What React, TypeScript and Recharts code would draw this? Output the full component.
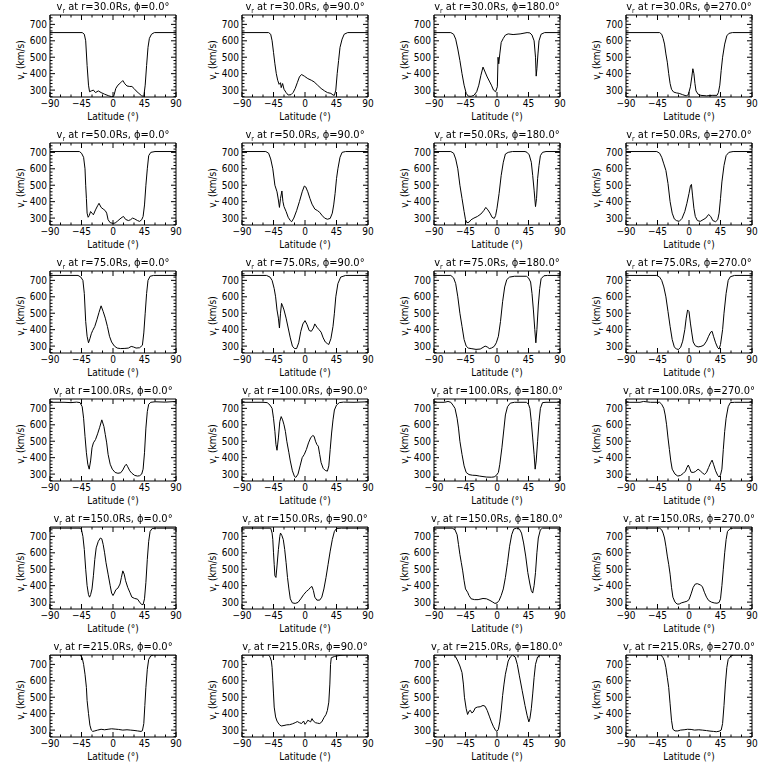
import { LineChart, Line, XAxis, YAxis, ReferenceArea } from "recharts";

// latitude (deg) vs v_r (km/s)
const r30p0 = [[-90,650],[-44,650],[-41,640],[-39,600],[-37,450],[-35,330],[-33.5,290],[-31,295],[-28,300],[-25,285],[-21,295],[-17,285],[-12,275],[-6,265],[-2,260],[1,262],[4,310],[7,330],[11,345],[14,358],[17,338],[20,325],[24,322],[27,322],[30,310],[33,295],[37,280],[41,265],[44,262],[46,330],[48,450],[50,560],[52,615],[55,640],[59,650],[90,650]];
const r30p90 = [[-90,650],[-52,650],[-49,640],[-47,600],[-45,530],[-43,460],[-41,400],[-39,360],[-37,335],[-35,345],[-34,315],[-32,340],[-30,305],[-27,285],[-24,270],[-20,272],[-17,285],[-14,310],[-11,345],[-8,380],[-5,395],[-1,385],[4,370],[9,360],[13,350],[18,330],[23,310],[28,295],[32,285],[37,280],[40,270],[42,268],[44,300],[46,400],[48,480],[50,560],[53,610],[56,640],[61,650],[90,650]];
const r30p180 = [[-90,650],[-66,650],[-62,640],[-59,610],[-56,550],[-53,480],[-50,400],[-47,330],[-44,280],[-41,263],[-37,262],[-33,268],[-29,290],[-26,330],[-23,390],[-20,440],[-17,410],[-14,380],[-11,355],[-8,330],[-5,300],[-2,290],[0.5,320],[1.5,500],[2.5,460],[4,520],[6,590],[9,615],[12,635],[16,642],[23,638],[33,642],[43,650],[47,648],[50,635],[53,600],[55,500],[56,385],[57,430],[58.5,520],[60,600],[63,640],[68,650],[90,650]];
const r30p270 = [[-90,650],[-42,650],[-39,640],[-37,615],[-35,580],[-33,520],[-31,470],[-29,400],[-27,340],[-25,305],[-22,288],[-18,283],[-14,280],[-9,272],[-4,265],[-1,272],[2,320],[4,380],[5.5,430],[7,400],[8.5,340],[10,295],[13,275],[17,268],[25,265],[33,268],[40,268],[42,285],[44,330],[46,420],[48,500],[51,580],[54,630],[57,645],[62,650],[90,650]];

const r50p0 = [[-90,705],[-48,705],[-45,695],[-42,670],[-40,600],[-39,500],[-38,420],[-37,330],[-35.5,305],[-34,315],[-32,340],[-30,330],[-28,320],[-25,350],[-22,375],[-20,390],[-17,365],[-14,355],[-11,345],[-9,330],[-7,290],[-4,272],[0,268],[3,270],[6,280],[10,295],[13,305],[15,310],[18,292],[22,285],[25,290],[28,300],[31,295],[35,285],[38,280],[41,290],[43,310],[45,380],[47,500],[49,600],[51,680],[54,700],[60,705],[90,705]];
const r50p90 = [[-90,705],[-56,705],[-52,695],[-49,660],[-46,600],[-43,500],[-40,460],[-38,410],[-36.5,365],[-35,420],[-33,465],[-31.5,400],[-30,370],[-27,340],[-24,305],[-21,285],[-19,278],[-16,300],[-12,345],[-8,400],[-4,460],[-1,495],[1,490],[4,460],[7,420],[10,385],[14,355],[18,345],[21,335],[24,318],[28,300],[32,293],[36,298],[39,330],[41,380],[43,450],[45,540],[47,600],[50,670],[53,700],[58,705],[90,705]];
const r50p180 = [[-90,705],[-66,705],[-62,695],[-59,660],[-56,600],[-53,500],[-50,420],[-47,340],[-45,290],[-43,272],[-40,275],[-37,290],[-33,300],[-28,310],[-23,325],[-19,345],[-16,365],[-13,350],[-10,330],[-7,305],[-4,298],[-2,315],[0,360],[3,450],[6,560],[9,640],[12,690],[16,700],[22,705],[40,705],[43,700],[46,685],[49,640],[51,560],[53,470],[55,370],[56.5,420],[58,540],[60,620],[62,680],[65,700],[70,705],[90,705]];
const r50p270 = [[-90,705],[-46,705],[-42,695],[-39,670],[-36,630],[-33,590],[-30,510],[-27,400],[-24,330],[-21,295],[-18,285],[-14,280],[-10,298],[-6,340],[-3,390],[0,450],[2,495],[3.5,505],[5,440],[7,360],[9,310],[12,285],[16,280],[20,290],[24,300],[28,322],[31,310],[34,285],[38,278],[41,290],[43,330],[45,420],[47,520],[50,620],[53,680],[57,700],[63,705],[90,705]];

const r75p0 = [[-90,730],[-50,730],[-46,720],[-43,700],[-41,620],[-39,450],[-37,360],[-35,320],[-33,345],[-31,375],[-29,395],[-26,420],[-23,460],[-20,505],[-17,545],[-14,510],[-11,470],[-8,420],[-5,360],[-2,325],[2,300],[6,288],[11,285],[17,286],[22,288],[26,298],[29,295],[33,288],[38,290],[42,305],[44,380],[46,500],[48,620],[50,700],[53,725],[58,730],[90,730]];
const r75p90 = [[-90,730],[-55,730],[-50,720],[-47,700],[-44,650],[-42,600],[-40,520],[-38,470],[-36.5,410],[-35,500],[-33.5,560],[-32,545],[-30,520],[-27,470],[-24,410],[-21,350],[-18,300],[-15,285],[-12,285],[-9,320],[-6,390],[-3,435],[0,455],[3,430],[6,395],[9,390],[12,410],[14,435],[17,415],[20,400],[23,385],[26,350],[29,325],[32,315],[34,310],[37,345],[40,420],[42,500],[44,600],[47,680],[51,720],[58,730],[90,730]];
const r75p180 = [[-90,730],[-66,730],[-62,715],[-59,680],[-56,600],[-53,500],[-50,420],[-47,340],[-44,300],[-41,288],[-37,285],[-30,280],[-24,282],[-20,292],[-17,300],[-14,295],[-11,285],[-8,288],[-4,298],[-1,320],[2,360],[5,450],[8,570],[11,660],[14,705],[18,720],[25,725],[42,725],[45,715],[48,690],[50,620],[52,520],[54,400],[55.5,320],[57,400],[59,550],[61,650],[63,710],[67,728],[72,730],[90,730]];
const r75p270 = [[-90,730],[-46,730],[-42,720],[-39,700],[-36,660],[-33,600],[-30,510],[-27,420],[-24,340],[-21,295],[-18,282],[-15,280],[-12,292],[-9,330],[-6,400],[-4,470],[-2,520],[0,510],[2,440],[4,380],[6,325],[9,302],[13,295],[17,298],[21,305],[25,330],[28,360],[31,385],[33,390],[35,360],[38,320],[41,290],[43,282],[45,310],[48,400],[50,500],[53,620],[56,700],[59,722],[65,730],[90,730]];

const r100p0 = [[-90,737],[-70,737],[-60,735],[-52,738],[-47,735],[-44,710],[-42,640],[-40,530],[-38,430],[-36,360],[-34,330],[-32,380],[-30,460],[-28,490],[-25,510],[-22,545],[-19,585],[-16,630],[-13,590],[-11,540],[-9,490],[-7,420],[-4,360],[-1,330],[3,310],[7,305],[11,308],[14,325],[17,350],[19,360],[21,345],[24,320],[27,305],[31,292],[35,288],[38,290],[41,300],[43,330],[45,430],[47,580],[49,680],[51,725],[54,737],[60,740],[75,738],[90,742]];
const r100p90 = [[-90,737],[-60,737],[-54,735],[-50,720],[-47,700],[-45,640],[-43,560],[-41.5,480],[-40,445],[-38,520],[-36,620],[-34,650],[-32,630],[-30,600],[-28,560],[-26,500],[-23,430],[-21,380],[-18,320],[-15,285],[-13,280],[-10,300],[-7,350],[-4,400],[-1,420],[2,450],[5,490],[8,520],[11,535],[13,530],[15,500],[17,480],[19,470],[21,420],[23,370],[26,335],[29,322],[32,318],[34,350],[36,450],[38,550],[40,630],[42,690],[45,720],[49,735],[55,738],[70,737],[90,740]];
const r100p180 = [[-90,737],[-75,737],[-70,742],[-66,737],[-63,720],[-60,700],[-57,640],[-55,580],[-53,500],[-50,420],[-47,350],[-44,310],[-40,297],[-35,293],[-30,292],[-25,288],[-20,285],[-15,282],[-8,281],[-4,283],[-1,292],[2,310],[4,360],[7,460],[10,580],[12,660],[15,710],[19,732],[25,737],[42,737],[45,725],[47,700],[49,620],[51,520],[53,420],[54.5,330],[56,380],[58,500],[60,620],[62,700],[65,735],[70,737],[90,737]];
const r100p270 = [[-90,737],[-70,737],[-65,742],[-55,737],[-42,737],[-39,725],[-36,700],[-34,660],[-32,600],[-30,520],[-28,450],[-26,380],[-24,330],[-20,300],[-16,288],[-12,292],[-8,305],[-5,318],[-3,340],[-1,355],[1,335],[3,312],[6,310],[9,315],[13,330],[16,320],[19,308],[22,298],[25,310],[28,340],[31,370],[33,385],[35,360],[38,320],[41,292],[43,282],[45,295],[47,330],[49,450],[51,560],[53,640],[56,710],[59,735],[65,737],[90,737]];

const r150p0 = [[-90,750],[-47,750],[-45,740],[-43,700],[-41,620],[-39,500],[-37,400],[-35,345],[-33.5,330],[-32,345],[-30,380],[-28,460],[-26,560],[-24,630],[-21,670],[-18,690],[-16,685],[-14,650],[-12,600],[-10,540],[-7,470],[-4,400],[-2,355],[0,340],[2,355],[4,375],[7,385],[10,410],[12,450],[14,490],[16,470],[18,430],[21,390],[24,360],[27,330],[31,322],[35,318],[38,300],[41,285],[43,285],[45,320],[47,420],[49,560],[51,670],[53,730],[56,748],[62,750],[90,750]];
const r150p90 = [[-90,750],[-49,750],[-47,720],[-46,680],[-45,600],[-44,530],[-43,460],[-41.5,450],[-40,520],[-38,620],[-36,700],[-35,720],[-33,705],[-31,680],[-29,620],[-27,540],[-25,450],[-23,380],[-21,320],[-18,295],[-14,292],[-10,298],[-6,320],[-2,345],[2,365],[5,375],[8,390],[10,395],[12,370],[14,330],[17,312],[21,312],[24,330],[27,380],[30,450],[33,530],[36,610],[39,680],[42,730],[45,748],[52,750],[90,750]];
const r150p180 = [[-90,750],[-64,750],[-60,740],[-57,710],[-55,650],[-53,590],[-51,540],[-49,490],[-47,430],[-45,380],[-42,360],[-40,340],[-37,320],[-32,315],[-27,315],[-20,322],[-15,320],[-10,310],[-6,300],[-3,292],[0,295],[3,310],[6,340],[9,380],[12,450],[15,540],[18,640],[21,710],[24,745],[28,750],[32,745],[35,720],[38,660],[41,580],[44,480],[47,410],[49,370],[51,355],[53,400],[55,480],[57,600],[59,690],[62,740],[65,750],[90,750]];
const r150p270 = [[-90,750],[-42,750],[-39,740],[-37,720],[-35,690],[-33,640],[-31,580],[-29,530],[-27,470],[-25,390],[-23,330],[-20,300],[-17,288],[-14,288],[-11,295],[-7,300],[-3,305],[0,315],[3,350],[6,390],[9,410],[12,412],[16,405],[19,395],[22,360],[25,330],[28,310],[32,300],[36,295],[40,293],[43,298],[45,320],[47,400],[49,500],[51,600],[53,680],[55,730],[59,748],[64,750],[90,750]];

const r215p0 = [[-90,757],[-47,757],[-44,740],[-42,700],[-40,640],[-38,560],[-37,480],[-35,400],[-33,330],[-31,300],[-29,292],[-26,295],[-22,300],[-17,305],[-12,302],[-7,305],[-2,308],[3,306],[8,304],[14,300],[20,302],[25,300],[30,298],[35,295],[40,292],[42,296],[44,340],[45.5,450],[47,560],[49,670],[51,730],[54,752],[58,757],[90,757]];
const r215p90 = [[-90,757],[-52,757],[-50,745],[-48,720],[-47,680],[-46,600],[-45,520],[-44,440],[-42,380],[-40,355],[-37,335],[-34,325],[-30,328],[-26,332],[-22,333],[-18,338],[-14,345],[-11,352],[-8,345],[-5,340],[-2,355],[0,335],[2,345],[4,360],[6,355],[8,350],[10,370],[12,355],[15,345],[18,342],[21,340],[24,350],[27,375],[30,395],[32,420],[34,470],[35.5,580],[36.5,700],[37.5,740],[42,748],[50,755],[60,757],[90,757]];
const r215p180 = [[-90,757],[-62,757],[-59,745],[-56,720],[-53,690],[-50,650],[-48,580],[-46.5,500],[-44,430],[-42,395],[-40,415],[-38,420],[-36,405],[-34,410],[-31,435],[-28,440],[-24,442],[-20,450],[-17,445],[-14,420],[-11,385],[-8,350],[-5,320],[-2,298],[0,292],[2,305],[4,350],[6,420],[8,510],[10,580],[12,640],[14,680],[16,720],[19,745],[22,757],[26,745],[29,700],[32,630],[36,540],[40,450],[43,390],[45.5,350],[47,370],[49,430],[51,520],[53,620],[55,700],[58,745],[62,757],[90,757]];
const r215p270 = [[-90,757],[-40,757],[-37,740],[-35,720],[-33,680],[-31,620],[-29,560],[-27,460],[-25,360],[-23,305],[-20,295],[-16,295],[-12,300],[-7,302],[-2,305],[3,304],[8,300],[14,302],[19,300],[25,297],[30,294],[35,292],[39,290],[43,293],[46,300],[48,340],[50,450],[52,580],[54,680],[56,730],[60,752],[64,757],[90,757]];

const radii = ["30.0", "50.0", "75.0", "100.0", "150.0", "215.0"];
const phis = ["0.0", "90.0", "180.0", "270.0"];
const series = [
  [r30p0, r30p90, r30p180, r30p270],
  [r50p0, r50p90, r50p180, r50p270],
  [r75p0, r75p90, r75p180, r75p270],
  [r100p0, r100p90, r100p180, r100p270],
  [r150p0, r150p90, r150p180, r150p270],
  [r215p0, r215p90, r215p180, r215p270],
];

const xMajor = [-90, -45, 0, 45, 90];
const xTicks = [-90, -75, -60, -45, -30, -15, 0, 15, 30, 45, 60, 75, 90];
const yMajor = [300, 400, 500, 600, 700];
const yTicks = [260, 280, 300, 320, 340, 360, 380, 400, 420, 440, 460, 480, 500, 520, 540, 560, 580, 600, 620, 640, 660, 680, 700, 720, 740];
const yDomain = [258, 757];

const FONT = '"Liberation Sans Narrow", "DejaVu Sans Condensed", "Liberation Sans", sans-serif';
const PW = 192;
const PH = 128;
const PLOT_W = 126;
const PLOT_H = 82;

function XTick(props: any) {
  const { x, y, payload } = props;
  const v = payload.value;
  const major = xMajor.includes(v);
  const len = major ? 5 : 2.5;
  return (
    <g>
      <line x1={x} x2={x} y1={y} y2={y - len} stroke="#000" />
      <line x1={x} x2={x} y1={y - PLOT_H} y2={y - PLOT_H + len} stroke="#000" />
      {major && (
        <text x={x} y={y + 10} textAnchor="middle" fontSize={10} fontFamily={FONT} fill="#000">
          {String(v).replace("-", "\u2212")}
        </text>
      )}
    </g>
  );
}

function YTick(props: any) {
  const { x, y, payload } = props;
  const v = payload.value;
  const major = yMajor.includes(v);
  const len = major ? 5 : 2.5;
  return (
    <g>
      <line x1={x} x2={x + len} y1={y} y2={y} stroke="#000" />
      <line x1={x + PLOT_W} x2={x + PLOT_W - len} y1={y} y2={y} stroke="#000" />
      {major && (
        <text x={x - 3} y={y} dy="0.35em" textAnchor="end" fontSize={10} fontFamily={FONT} fill="#000">
          {v}
        </text>
      )}
    </g>
  );
}

function Panel({ r, phi, pts }: { r: string; phi: string; pts: number[][] }) {
  const data = pts.map(([lat, v]) => ({ lat, v }));
  return (
    <div style={{ position: "relative", width: PW, height: PH }}>
      <LineChart width={PW} height={PH} data={data} margin={{ top: 15, right: 16, bottom: 0, left: 0 }}>
        <XAxis
          type="number"
          dataKey="lat"
          domain={[-90, 90]}
          ticks={xTicks}
          interval={0}
          height={31}
          tickSize={0}
          tickMargin={0}
          axisLine={false}
          tickLine={false}
          allowDataOverflow
          tick={<XTick />}
        />
        <YAxis
          type="number"
          domain={yDomain}
          ticks={yTicks}
          interval={0}
          width={50}
          tickSize={0}
          tickMargin={0}
          axisLine={false}
          tickLine={false}
          allowDataOverflow
          tick={<YTick />}
        />
        <ReferenceArea x1={-90} x2={90} y1={yDomain[0]} y2={yDomain[1]} fill="none" stroke="#000" strokeWidth={1} />
        <Line type="linear" dataKey="v" stroke="#000" strokeWidth={1} dot={false} isAnimationActive={false} />
      </LineChart>
      <div style={{ position: "absolute", left: 40, top: 1, width: PLOT_W + 20, textAlign: "center", fontSize: 11, lineHeight: "11px", whiteSpace: "nowrap", color: "#000", willChange: "transform" }}>
        v<sub style={{ fontSize: 7, lineHeight: 0 }}>r</sub> at r={r}Rs, ϕ={phi}°
      </div>
      <div style={{ position: "absolute", left: 50, top: 111, width: PLOT_W, textAlign: "center", fontSize: 10, lineHeight: "11px", whiteSpace: "nowrap" }}>
        Latitude (°)
      </div>
      <div style={{ position: "absolute", left: 20, top: 60, transform: "translate(-50%, -50%) rotate(-90deg)", fontSize: 10, lineHeight: "11px", whiteSpace: "nowrap" }}>
        v<sub style={{ fontSize: 7, lineHeight: 0 }}>r</sub> (km/s)
      </div>
    </div>
  );
}

export default function App() {
  return (
    <div
      style={{
        position: "absolute",
        left: 0,
        top: 0,
        width: 768,
        height: 768,
        background: "#fff",
        display: "grid",
        gridTemplateColumns: `repeat(4, ${PW}px)`,
        gridTemplateRows: `repeat(6, ${PH}px)`,
        fontFamily: FONT,
        color: "#000",
      }}
    >
      {series.map((row, i) =>
        row.map((pts, j) => <Panel key={`${i}-${j}`} r={radii[i]} phi={phis[j]} pts={pts} />)
      )}
    </div>
  );
}
